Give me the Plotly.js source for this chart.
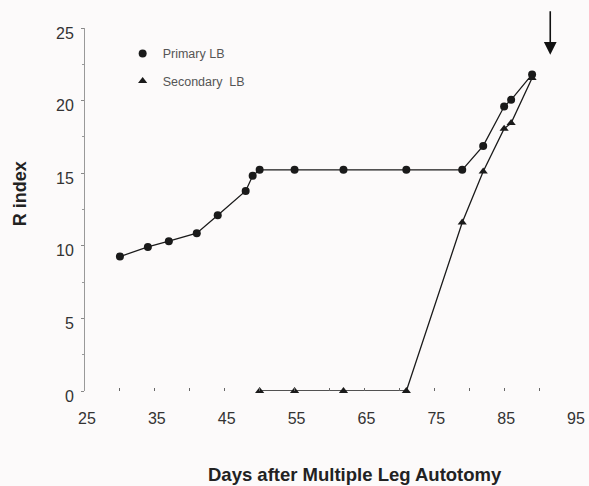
<!DOCTYPE html>
<html>
<head>
<meta charset="utf-8">
<script src="https://cdn.plot.ly/plotly-3.0.1.min.js"></script>
<style>html,body{margin:0;padding:0;background:#fcfafa;}</style>
</head>
<body>
<div id="chart" style="width:589px;height:486px;"></div>
<script>
// Data
const primaryDays = [30, 34, 37, 41, 44, 48, 49, 50, 55, 62, 71, 79, 82, 85, 86, 89];
const primaryR    = [9.26, 9.92, 10.32, 10.87, 12.1, 13.78, 14.82, 15.23, 15.23, 15.23, 15.23, 15.23, 16.88, 19.59, 20.05, 21.8];
const secondaryDays = [50, 55, 62, 71, 79, 82, 85, 86, 89];
const secondaryR    = [0, 0, 0, 0, 11.6, 15.12, 18.06, 18.45, 21.55];
const xTickVals = [25, 35, 45, 55, 65, 75, 85, 95];
const yTickVals = [0, 5, 10, 15, 20, 25];
const arrowDay = 91.6;
const arrowR = 23.15;

const FONT = '"Liberation Sans", Arial, sans-serif';
const INK = '#1a1a1a';

const traces = [
  {x: primaryDays, y: primaryR, mode: 'lines', line: {color: INK, width: 1.3},
   showlegend: false, cliponaxis: false, hoverinfo: 'skip'},
  {x: primaryDays, y: primaryR, mode: 'markers', name: 'Primary LB',
   marker: {symbol: 'circle', size: 8, color: INK}, cliponaxis: false, legend: 'legend'},
  {x: secondaryDays, y: secondaryR, mode: 'lines', line: {color: INK, width: 1.3},
   showlegend: false, cliponaxis: false, hoverinfo: 'skip'},
  {x: secondaryDays, y: secondaryR, mode: 'markers', name: 'Secondary  LB',
   marker: {symbol: 'triangle-up', size: 8, color: INK}, cliponaxis: false, legend: 'legend2'}
];

const layout = {
  width: 589, height: 486,
  margin: {l: 85, r: 15, t: 28, b: 95},
  paper_bgcolor: '#fcfafa', plot_bgcolor: '#fcfafa',
  font: {family: FONT, color: '#333', size: 16},
  showlegend: true,
  legend: {x: 0.077, y: 0.970, xanchor: 'left', yanchor: 'top', bgcolor: 'rgba(0,0,0,0)',
           font: {size: 12.5, color: '#555', family: FONT}, itemsizing: 'trace'},
  legend2: {x: 0.077, y: 0.894, xanchor: 'left', yanchor: 'top', bgcolor: 'rgba(0,0,0,0)',
           font: {size: 12.5, color: '#555', family: FONT}, itemsizing: 'trace'},
  xaxis: {
    range: [25, 95], tickmode: 'array', tickvals: xTickVals, ticktext: xTickVals.map(String),
    showline: false, zeroline: false, showgrid: false,
    ticks: 'inside', ticklen: 3, tickcolor: '#666', tickwidth: 1,
    minor: {dtick: 5, tick0: 25, ticks: 'inside', ticklen: 3, tickcolor: '#666', showgrid: false},
    ticklabelstandoff: 16, ticklabelshift: 2,
    tickfont: {size: 16, color: '#333', family: FONT}
  },
  yaxis: {
    range: [0, 25], tickmode: 'array', tickvals: yTickVals, ticktext: yTickVals.map(String),
    showline: true, linecolor: '#999', linewidth: 1, zeroline: false, showgrid: false,
    ticks: 'outside', ticklen: 3, tickcolor: '#888',
    minor: {dtick: 2.5, tick0: 0, ticks: 'outside', ticklen: 2, tickcolor: '#999', showgrid: false},
    ticklabelstandoff: 4, ticklabelshift: 5,
    tickfont: {size: 16, color: '#333', family: FONT}
  },
  annotations: [
    {text: '<b>Days after Multiple Leg Autotomy</b>', xref: 'paper', yref: 'paper',
     x: 0.552, y: -0.231, xanchor: 'center', yanchor: 'middle', showarrow: false,
     font: {size: 18.5, color: '#222', family: FONT}},
    {text: '<b>R index</b>', xref: 'paper', yref: 'paper', textangle: -90,
     x: -0.133, y: 0.545, xanchor: 'center', yanchor: 'middle', showarrow: false,
     font: {size: 18, color: '#222', family: FONT}},
    {text: '', x: arrowDay, y: arrowR, xref: 'x', yref: 'y', showarrow: true,
     ax: 0, ay: -45, arrowhead: 2, arrowsize: 1.6, arrowwidth: 1.6, arrowcolor: '#111'}
  ]
};

Plotly.newPlot('chart', traces, layout, {displayModeBar: false, staticPlot: true});
</script>
</body>
</html>
